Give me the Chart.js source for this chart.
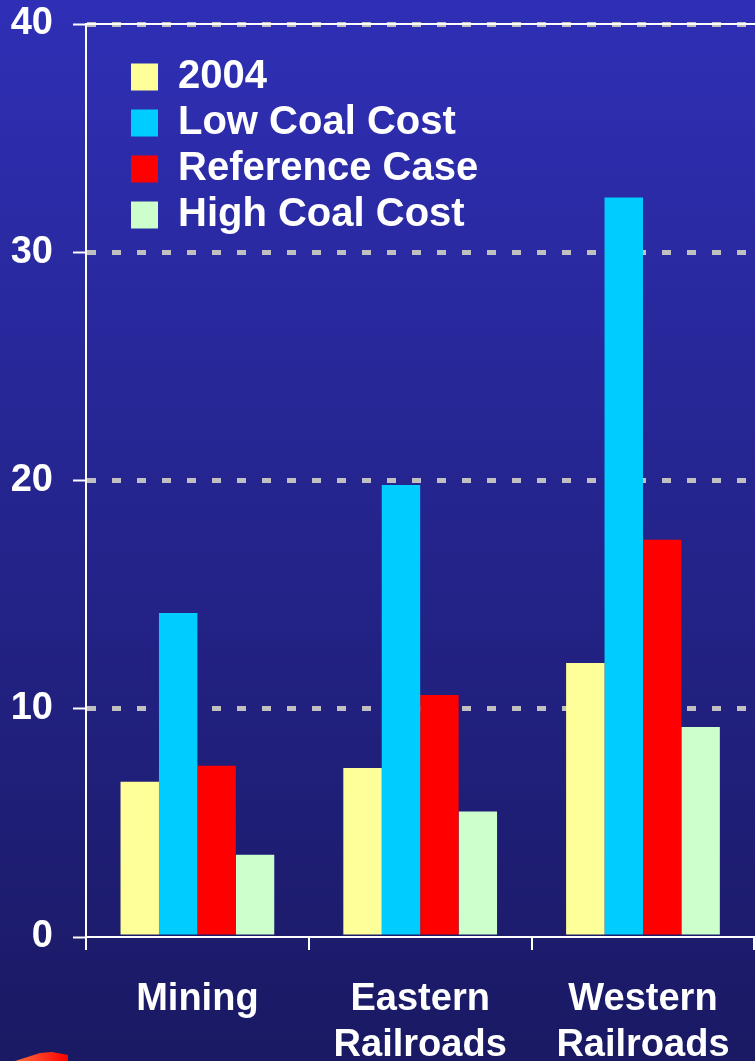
<!DOCTYPE html>
<html>
<head>
<meta charset="utf-8">
<script src="https://cdn.jsdelivr.net/npm/chart.js@4.4.1/dist/chart.umd.min.js"></script>
<style>
  html, body { margin: 0; padding: 0; overflow: hidden; }
  body { width: 755px; height: 1061px; background: linear-gradient(#2f2fb6, #1a1963); }
  #wrap { position: relative; width: 755px; height: 1061px; overflow: hidden; }
  canvas { display: block; }
</style>
</head>
<body>
<div id="wrap"><canvas id="chart" width="757" height="1061"></canvas></div>
<script>
// Data
const categories = [['Mining'], ['Eastern', 'Railroads'], ['Western', 'Railroads']];
const seriesNames = ['2004', 'Low Coal Cost', 'Reference Case', 'High Coal Cost'];
const values2004 = [6.8, 7.4, 12.0];
const valuesLowCost = [14.2, 19.8, 32.4];
const valuesReference = [7.5, 10.6, 17.4];
const valuesHighCost = [3.6, 5.5, 9.2];
const seriesColors = ['#ffff99', '#00ccff', '#ff0000', '#ccffcc'];
const yTicks = [0, 10, 20, 30, 40];

const font = { family: "'Liberation Sans', Arial, sans-serif", weight: 'bold' };
const allValues = [values2004, valuesLowCost, valuesReference, valuesHighCost];

// Move the legend into the upper left of the plot
const legendMover = {
  id: 'legendMover',
  afterLayout(chart) {
    const lg = chart.legend;
    const area = chart.chartArea;
    const h = lg.height;
    lg.left = area.left + 39;
    lg.right = lg.left + lg.width;
    lg.top = area.top + 27;
    lg.bottom = lg.top + h;
  }
};

// small red logo piece at the bottom left corner
const cornerLogo = {
  id: 'cornerLogo',
  afterDraw(chart) {
    const ctx = chart.ctx;
    const h = chart.height;
    ctx.save();
    const g = ctx.createLinearGradient(15, 0, 68, 0);
    g.addColorStop(0, '#ff7040');
    g.addColorStop(1, '#ff0000');
    ctx.fillStyle = g;
    ctx.beginPath();
    ctx.moveTo(15, h);
    ctx.lineTo(40, h - 8);
    ctx.lineTo(52, h - 9);
    ctx.lineTo(68, h - 6);
    ctx.lineTo(68, h);
    ctx.closePath();
    ctx.fill();
    ctx.beginPath();
    ctx.arc(60, h + 1, 8, 0, Math.PI * 2);
    ctx.fill();
    ctx.restore();
  }
};

const ctx = document.getElementById('chart').getContext('2d');
const chart = new Chart(ctx, {
  type: 'bar',
  data: {
    labels: categories,
    datasets: seriesNames.map((name, i) => ({
      label: name,
      data: allValues[i],
      backgroundColor: seriesColors[i],
      borderWidth: 0,
      categoryPercentage: 0.69,
      barPercentage: 1.0
    }))
  },
  options: {
    responsive: false,
    maintainAspectRatio: false,
    animation: false,
    devicePixelRatio: 1,
    layout: { padding: { top: 24, right: 0, bottom: 0, left: 0 } },
    plugins: {
      legend: {
        position: 'chartArea',
        align: 'start',
        labels: {
          color: '#ffffff',
          font: { ...font, size: 40 },
          boxWidth: 27,
          boxHeight: 27,
          padding: 6
        }
      },
      tooltip: { enabled: false }
    },
    scales: {
      x: {
        grid: {
          drawOnChartArea: false,
          drawTicks: true,
          tickLength: 13,
          color: '#ffffff',
          lineWidth: 2
        },
        border: { display: true, color: '#ffffff', width: 2 },
        ticks: {
          color: '#ffffff',
          font: { ...font, size: 38 },
          padding: 27,
          maxRotation: 0
        },
        afterFit(scale) { scale.height = 124; }
      },
      x2: {
        position: 'top',
        z: -1,
        grid: { display: false, drawTicks: false },
        ticks: { display: false },
        border: { display: true, color: '#ffffff', width: 2 },
        afterFit(scale) { scale.height = 0; }
      },
      y: {
        min: 0,
        max: 40,
        afterBuildTicks(scale) { scale.ticks = yTicks.map(v => ({ value: v })); },
        grid: {
          color: (c) => (c.tick && c.tick.value === 0) ? 'rgba(0,0,0,0)' : '#c0c0c0',
          lineWidth: 5,
          drawTicks: true,
          tickLength: 13,
          tickColor: '#ffffff',
          tickWidth: 2,
          tickBorderDash: []
        },
        border: { display: true, color: '#ffffff', width: 2, dash: [9, 16] },
        ticks: {
          color: '#ffffff',
          font: { ...font, size: 38 },
          padding: 20
        },
        afterFit(scale) {
          scale.width = 86;
          scale.paddingTop = 0;
          scale.paddingBottom = 0;
        }
      }
    }
  },
  plugins: [legendMover, cornerLogo]
});
</script>
</body>
</html>
